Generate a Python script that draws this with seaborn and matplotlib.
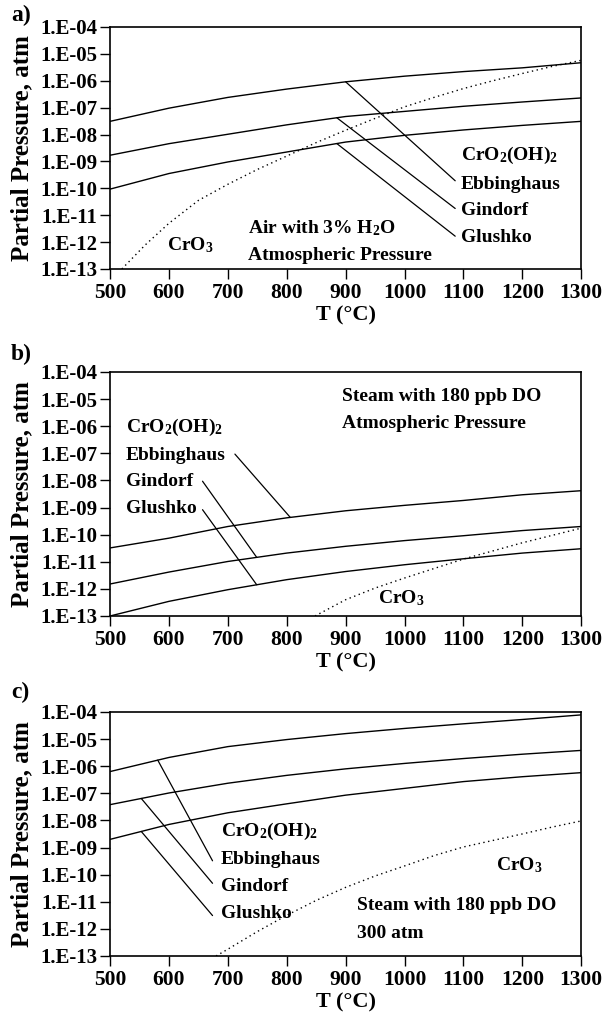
import numpy as np
import matplotlib
matplotlib.use("Agg")
import matplotlib.pyplot as plt
import seaborn as sns

sns.set_style("ticks")
plt.rcParams['font.family'] = ['Liberation Serif', 'DejaVu Serif']
plt.rcParams['font.weight'] = 'bold'
plt.rcParams['mathtext.fontset'] = 'custom'
plt.rcParams['mathtext.rm'] = 'Liberation Serif:bold'
plt.rcParams['mathtext.default'] = 'rm'
plt.rcParams['text.color'] = 'black'
plt.rcParams['axes.labelcolor'] = 'black'
plt.rcParams['xtick.color'] = 'black'
plt.rcParams['ytick.color'] = 'black'

# temperatures (deg C) for the CrO2(OH)2 curves
temp = [500, 600, 700, 800, 900, 1000, 1100, 1200, 1300]

# log10 partial pressure
# a) air with 3% H2O, atmospheric pressure
a_ebb = [-7.51, -7.02, -6.62, -6.31, -6.04, -5.83, -5.66, -5.52, -5.33]
a_gin = [-8.77, -8.34, -7.99, -7.64, -7.33, -7.14, -6.95, -6.79, -6.64]
a_glu = [-10.03, -9.45, -9.02, -8.65, -8.28, -8.03, -7.83, -7.66, -7.51]
a_cro3_t = [520, 560, 600, 650, 700, 750, 800, 850, 900, 950, 1000, 1050, 1100, 1150, 1200, 1250, 1300]
a_cro3 = [-13.0, -12.1, -11.3, -10.45, -9.85, -9.3, -8.8, -8.3, -7.84, -7.4, -6.97, -6.62, -6.29, -6.0, -5.73, -5.47, -5.24]

# b) steam with 180 ppb DO, atmospheric pressure
b_ebb = [-10.49, -10.13, -9.70, -9.38, -9.12, -8.92, -8.74, -8.53, -8.38]
b_gin = [-11.82, -11.38, -10.99, -10.68, -10.43, -10.22, -10.04, -9.85, -9.70]
b_glu = [-13.00, -12.46, -12.03, -11.66, -11.36, -11.11, -10.89, -10.68, -10.52]
b_cro3_t = [848, 900, 950, 1000, 1050, 1100, 1150, 1200, 1250, 1300]
b_cro3 = [-13.0, -12.40, -11.97, -11.6, -11.25, -10.9, -10.6, -10.3, -10.03, -9.76]

# c) steam with 180 ppb DO, 300 atm
c_ebb = [-6.20, -5.68, -5.28, -5.02, -4.80, -4.61, -4.44, -4.28, -4.11]
c_gin = [-7.42, -6.99, -6.63, -6.34, -6.10, -5.90, -5.72, -5.56, -5.42]
c_glu = [-8.70, -8.15, -7.72, -7.39, -7.07, -6.82, -6.57, -6.39, -6.24]
c_cro3_t = [680, 700, 750, 800, 850, 900, 950, 1000, 1050, 1100, 1150, 1200, 1250, 1300]
c_cro3 = [-13.0, -12.75, -12.1, -11.5, -10.95, -10.47, -10.05, -9.68, -9.3, -8.98, -8.74, -8.5, -8.25, -8.02]

x_ticks = [500, 600, 700, 800, 900, 1000, 1100, 1200, 1300]
y_exps = list(range(-13, -3))
y_labels = ["1.E-%02d" % (-e) for e in y_exps]

species = r"CrO$_2$(OH)$_2$"
names = ["Ebbinghaus", "Gindorf", "Glushko"]

panels = [
    dict(tag="a)", curves=[a_ebb, a_gin, a_glu], cro3=(a_cro3_t, a_cro3),
         hit_x=[900, 885, 885], lead_end=[(1086, -9.72), (1086, -10.75), (1086, -11.78)],
         lab_x=1096, lab_y=[-8.77, -9.84, -10.84, -11.83],
         cond=["Air with 3% H$_2$O", "Atmospheric Pressure"], cond_xy=(734, -11.48, -12.51),
         cro3_xy=(596, -12.13), box=[0.181, 0.7355, 0.775, 0.238], tag_y=0.985),
    dict(tag="b)", curves=[b_ebb, b_gin, b_glu], cro3=(b_cro3_t, b_cro3),
         hit_x=[806, 749, 749], lead_end=[(712, -7.03), (657, -8.03), (657, -9.08)],
         lab_x=527, lab_y=[-6.04, -7.07, -8.04, -9.05],
         cond=["Steam with 180 ppb DO", "Atmospheric Pressure"], cond_xy=(894, -4.90, -5.90),
         cro3_xy=(955, -12.34), box=[0.181, 0.3943, 0.775, 0.240], tag_y=0.651),
    dict(tag="c)", curves=[c_ebb, c_gin, c_glu], cro3=(c_cro3_t, c_cro3),
         hit_x=[581, 553, 553], lead_end=[(674, -9.49), (674, -10.32), (674, -11.51)],
         lab_x=688, lab_y=[-8.40, -9.43, -10.45, -11.45],
         cond=["Steam with 180 ppb DO", "300 atm"], cond_xy=(919, -11.14, -12.16),
         cro3_xy=(1156, -9.66), box=[0.181, 0.0600, 0.775, 0.240], tag_y=0.319),
]

fig = plt.figure(figsize=(6.08, 10.17), dpi=100)
txt = dict(fontsize=14, fontweight='bold', va='center', ha='left', color='black')

for p in panels:
    ax = fig.add_axes(p["box"])
    for ys in p["curves"]:
        sns.lineplot(x=temp, y=10.0 ** np.array(ys), ax=ax, color='black', lw=1.0)
    ct, cv = p["cro3"]
    sns.lineplot(x=ct, y=10.0 ** np.array(cv), ax=ax, color='black', lw=1.0, linestyle=(0, (1, 2.5)))

    # leader lines from labels to curves
    for ys, hx, (ex, ey) in zip(p["curves"], p["hit_x"], p["lead_end"]):
        hy = np.interp(hx, temp, ys)
        ax.annotate("", xy=(hx, 10 ** hy), xytext=(ex, 10 ** ey),
                    arrowprops=dict(arrowstyle='-', color='black', lw=0.9,
                                    shrinkA=0, shrinkB=0))

    ax.text(p["lab_x"], 10 ** p["lab_y"][0], species, **txt)
    for n, ly in zip(names, p["lab_y"][1:]):
        ax.text(p["lab_x"], 10 ** ly, n, **txt)
    cx, cy1, cy2 = p["cond_xy"]
    ax.text(cx, 10 ** cy1, p["cond"][0], **txt)
    ax.text(cx, 10 ** cy2, p["cond"][1], **txt)
    ax.text(p["cro3_xy"][0], 10 ** p["cro3_xy"][1], r"CrO$_3$", **txt)

    ax.set_yscale('log')
    ax.set_xlim(500, 1300)
    ax.set_ylim(1e-13, 1e-4)
    ax.set_xticks(x_ticks)
    ax.set_xticklabels([str(t) for t in x_ticks])
    ax.set_yticks([10.0 ** e for e in y_exps])
    ax.set_yticklabels(y_labels)
    ax.minorticks_off()
    ax.tick_params(axis='both', direction='out', length=7, width=1.0, colors='black')
    ax.tick_params(axis='x', labelsize=15.5, pad=3)
    ax.tick_params(axis='y', labelsize=15, pad=2)
    for lab in ax.get_xticklabels() + ax.get_yticklabels():
        lab.set_fontweight('bold')
    for s in ax.spines.values():
        s.set_visible(True)
        s.set_linewidth(1.2)
        s.set_color('black')
    ax.set_xlabel("T (°C)", fontsize=16, fontweight='bold', labelpad=2)
    ax.set_ylabel("Partial Pressure, atm", fontsize=18, fontweight='bold', labelpad=5)
    fig.text(0.018, p["tag_y"], p["tag"], fontsize=17, fontweight='bold', va='center', ha='left')

fig.savefig("out.png", dpi=100)
